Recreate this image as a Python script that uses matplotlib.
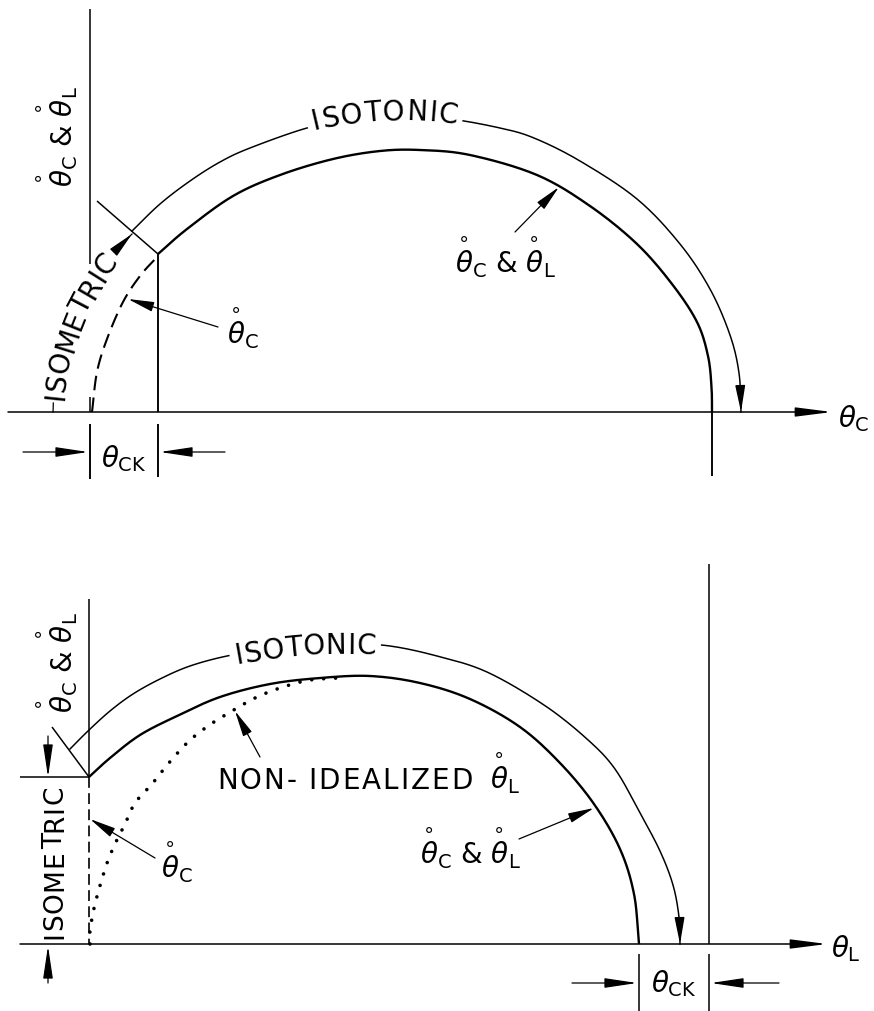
import numpy as np
import matplotlib
matplotlib.use("Agg")
import matplotlib.pyplot as plt

# ------------------------------------------------------------------
# Geometry of the two phase-plane sketches (page units, y downward)
# ------------------------------------------------------------------
W, H = 874, 1012
FS = 20            # lettering size (pt)
FONT = "DejaVu Sans"

# ---- upper sketch: plotted against theta_C ----
top_base_y = 413
top_axis_x = [8, 832]
top_vaxis_x = 90
top_vaxis_upper = [10, 265]
top_vaxis_lower = [398, 413]
top_ck_x = 158                      # theta_CK marker
top_ticks_below = [(90, 425, 480), (158, 425, 478), (712, 413, 477)]
top_ck_arrow_y = 453
top_ck_arrows = [(23, 88), (225, 160)]

top_inner_x = [158, 187, 233, 280, 333, 380, 420, 470, 537, 590, 637, 672, 697, 708, 711.5, 712]
top_inner_y = [255, 230, 197, 176, 160, 152, 151, 156, 176, 207, 245, 285, 323, 357, 388, 413]

top_outer_x = [132, 160, 190, 220, 250, 307, 350, 400, 450, 500, 534, 580, 637, 680, 710, 730, 739, 741]
top_outer_y = [232, 205, 182, 163, 149, 129, 121, 117, 120, 129, 139, 162, 200, 245, 290, 336, 374, 413]

top_dash_x = [92, 97, 107, 123, 140, 157]
top_dash_y = [413, 373, 340, 303, 277, 258]

top_iso_x = [53, 54, 58, 65, 75, 88, 103, 118, 132]
top_iso_y = [413, 395, 370, 343, 315, 290, 266, 249, 235]

top_diag_x = [97, 158]
top_diag_y = [202, 255]

# ---- lower sketch: plotted against theta_L ----
bot_base_y = 945
bot_axis_x = [20, 827]
bot_vaxis_x = 89
bot_vaxis_upper = [600, 778]
bot_knee_y = 778
bot_right_x = 709
bot_right_y = [565, 945]
bot_ticks_below = [(639, 955, 1012), (709, 955, 1012)]
bot_ck_arrow_y = 984
bot_ck_arrows = [(572, 637), (779, 711)]
bot_iso_arrows = [(48, 737, 778), (48, 984, 947)]

bot_inner_x = [89, 110, 140, 177, 220, 270, 320, 370, 420, 470, 520, 560, 594, 620, 634, 639]
bot_inner_y = [778, 759, 736, 717, 698, 685, 679, 677, 684, 700, 728, 764, 805, 850, 895, 945]

bot_outer_x = [70, 88, 110, 133, 160, 190, 227, 270, 310, 350, 390, 437, 487, 544, 587, 615, 640, 660, 673, 679, 680]
bot_outer_y = [750, 732, 712, 695, 680, 667, 657, 650, 646, 645, 647, 657, 673, 706, 740, 770, 814, 852, 886, 918, 945]

bot_dot_x = [90, 90, 95, 106, 115, 125, 135, 152, 168, 188, 208, 232, 257, 283, 310, 338]
bot_dot_y = [945, 932, 905, 867, 845, 825, 804, 785, 765, 743, 727, 712, 698, 688, 681, 679]

bot_diag_x = [52, 89]
bot_diag_y = [728, 778]

LW_CURVE = 1.7
LW_AXIS = 1.1
LW_THIN = 0.9

TH_C = r"$\overset{\circ}{\theta}_\mathrm{C}$"
TH_L = r"$\overset{\circ}{\theta}_\mathrm{L}$"
TH_CL = TH_C + " & " + TH_L
TH_CK = r"$\theta_\mathrm{CK}$"

plt.rcParams["font.family"] = [FONT]
plt.rcParams["mathtext.fontset"] = "dejavusans"

fig = plt.figure(figsize=(W / 100, H / 100), dpi=100)
ax = fig.add_axes([0, 0, 1, 1])
ax.set_xlim(0, W)
ax.set_ylim(H, 0)
ax.axis("off")
renderer = fig.canvas.get_renderer()


def smooth(xs, ys, n=16):
    """Catmull-Rom curve through the given points (straight run for two points)."""
    p = np.column_stack([xs, ys]).astype(float)
    if len(p) < 3:
        t = np.linspace(0, 1, 200)[:, None]
        c = p[0] + (p[-1] - p[0]) * t
        return c[:, 0], c[:, 1]
    ext = np.vstack([2 * p[0] - p[1], p, 2 * p[-1] - p[-2]])
    t = np.linspace(0, 1, n, endpoint=False)[:, None]
    out = []
    for i in range(1, len(ext) - 2):
        p0, p1, p2, p3 = ext[i - 1], ext[i], ext[i + 1], ext[i + 2]
        out.append(0.5 * (2 * p1 + (-p0 + p2) * t + (2 * p0 - 5 * p1 + 4 * p2 - p3) * t ** 2
                          + (-p0 + 3 * p1 - 3 * p2 + p3) * t ** 3))
    out.append(p[-1][None, :])
    c = np.vstack(out)
    return c[:, 0], c[:, 1]


def arclen(x, y):
    return np.concatenate([[0], np.cumsum(np.hypot(np.diff(x), np.diff(y)))])


def seg(x, y, s, a, b):
    m = (s > a) & (s < b)
    xs = np.concatenate([[np.interp(a, s, x)], x[m], [np.interp(b, s, x)]])
    ys = np.concatenate([[np.interp(a, s, y)], y[m], [np.interp(b, s, y)]])
    return xs, ys


def arrow(x0, y0, x1, y1, lw=LW_THIN, hl=1.6, hw=0.3):
    ax.annotate("", xy=(x1, y1), xytext=(x0, y0),
                arrowprops=dict(arrowstyle=f"-|>,head_length={hl},head_width={hw}",
                                lw=lw, color="k", shrinkA=0, shrinkB=0,
                                mutation_scale=10))


def curve(xs, ys, **kw):
    cx, cy = smooth(xs, ys)
    ax.plot(cx, cy, color="k", solid_capstyle="butt", **kw)
    return cx, cy


def ink_width(ch, size):
    if ch == " ":
        return 0.3 * size * 100 / 72
    t = ax.text(0, 0, ch, fontsize=size)
    w = t.get_window_extent(renderer).width
    t.remove()
    return w


def label_on_path(xs, ys, text, start, size=FS, gap=1.0, rise=0.0, pad=6.0,
                  line=True, lw=LW_THIN, arrow_end=False):
    """Letter a word along a guide curve; the guide is drawn as a leader broken by the word."""
    cx, cy = smooth(xs, ys)
    s = arclen(cx, cy)
    L = s[-1]
    s0 = s[np.argmin(np.hypot(cx - start[0], cy - start[1]))]
    widths = [ink_width(c, size) for c in text]
    total = sum(widths) + gap * (len(text) - 1)
    pos = s0
    for c, w in zip(text, widths):
        sc = pos + w / 2
        px, py = np.interp(sc, s, cx), np.interp(sc, s, cy)
        dx = np.interp(sc + 2, s, cx) - np.interp(sc - 2, s, cx)
        dy = np.interp(sc + 2, s, cy) - np.interp(sc - 2, s, cy)
        nrm = np.hypot(dx, dy)
        nx, ny = dy / nrm, -dx / nrm
        ang = np.degrees(np.arctan2(-dy, dx))
        if c != " ":
            ax.text(px + rise * nx, py + rise * ny, c, fontsize=size, rotation=ang,
                    rotation_mode="anchor", ha="center", va="baseline")
        pos += w + gap
    if line:
        end = s0 + total
        if s0 - pad > 0:
            a, b = seg(cx, cy, s, 0, s0 - pad)
            ax.plot(a, b, color="k", lw=lw)
        if end + pad < L:
            a, b = seg(cx, cy, s, end + pad, L)
            ax.plot(a, b, color="k", lw=lw)
            if arrow_end:
                arrow(np.interp(L - 18, s, cx), np.interp(L - 18, s, cy), cx[-1], cy[-1], lw=lw)


def line(x0, y0, x1, y1, lw=LW_AXIS, **kw):
    ax.plot([x0, x1], [y0, y1], color="k", lw=lw, solid_capstyle="butt", **kw)


# ======================= upper sketch =======================
arrow(top_axis_x[0], top_base_y, top_axis_x[1], top_base_y, lw=LW_AXIS, hl=2.2, hw=0.28)
line(top_vaxis_x, top_vaxis_upper[0], top_vaxis_x, top_vaxis_upper[1])
line(top_vaxis_x, top_vaxis_lower[0], top_vaxis_x, top_vaxis_lower[1])
line(top_ck_x, top_inner_y[0], top_ck_x, top_base_y, lw=LW_CURVE * 0.8)
for x, y0, y1 in top_ticks_below:
    line(x, y0, x, y1, lw=LW_CURVE * 0.8)
for x0, x1 in top_ck_arrows:
    arrow(x0, top_ck_arrow_y, x1, top_ck_arrow_y, hl=2.0, hw=0.3)
ax.text((top_vaxis_x + top_ck_x) / 2, 467, TH_CK, fontsize=FS, ha="center", va="baseline")

curve(top_inner_x, top_inner_y, lw=LW_CURVE)
curve(top_dash_x, top_dash_y, lw=1.5, linestyle=(0, (7, 3.5)))
line(top_diag_x[0], top_diag_y[0], top_diag_x[1], top_diag_y[1], lw=LW_THIN * 1.2)

# isotonic path over the top, isometric path up the left side
label_on_path(top_outer_x, top_outer_y, "ISOTONIC", start=(313, 128), gap=1.5, rise=-3,
              pad=6, lw=LW_THIN * 1.2, arrow_end=True)
label_on_path(top_iso_x, top_iso_y, "ISOMETRIC", start=(54, 400), gap=0.6, rise=-10,
              pad=4, lw=LW_THIN, arrow_end=True)

ax.text(57, 137, TH_CL, fontsize=FS, rotation=90, ha="center", va="center")
ax.text(243, 328, TH_C, fontsize=FS, ha="center", va="center")
arrow(218, 328, 128, 300)
ax.text(505, 257, TH_CL, fontsize=FS, ha="center", va="center")
arrow(515, 233, 559, 188)
ax.text(838, 427, r"$\theta_\mathrm{C}$", fontsize=FS, ha="left", va="baseline")

# ======================= lower sketch =======================
arrow(bot_axis_x[0], bot_base_y, bot_axis_x[1], bot_base_y, lw=LW_AXIS, hl=2.2, hw=0.28)
line(bot_vaxis_x, bot_vaxis_upper[0], bot_vaxis_x, bot_vaxis_upper[1])
line(bot_vaxis_x, bot_knee_y, bot_vaxis_x, bot_base_y, lw=1.2, linestyle=(0, (6.5, 3.2)))
line(20, bot_knee_y, bot_vaxis_x, bot_knee_y)
line(bot_right_x, bot_right_y[0], bot_right_x, bot_right_y[1])
for x, y0, y1 in bot_ticks_below:
    line(x, y0, x, y1)
for x0, x1 in bot_ck_arrows:
    arrow(x0, bot_ck_arrow_y, x1, bot_ck_arrow_y, hl=2.0, hw=0.3)
ax.text((639 + bot_right_x) / 2, 992, TH_CK, fontsize=FS, ha="center", va="baseline")
for x, y0, y1 in bot_iso_arrows:
    arrow(x, y0, x, y1, hl=2.0, hw=0.3)

curve(bot_inner_x, bot_inner_y, lw=LW_CURVE)
cx, cy = smooth(bot_dot_x, bot_dot_y)
ax.plot(cx, cy, color="k", lw=2.6, linestyle=(0, (0.01, 3.3)), dash_capstyle="round")
line(bot_diag_x[0], bot_diag_y[0], bot_diag_x[1], bot_diag_y[1], lw=LW_THIN * 1.2)

label_on_path(bot_outer_x, bot_outer_y, "ISOTONIC", start=(234, 656), gap=1.0, rise=-9,
              pad=6, lw=LW_THIN * 1.2, arrow_end=True)
label_on_path([62, 62], [bot_base_y, bot_knee_y], "ISOMETRIC", start=(62, 939), gap=1.0,
              size=19, line=False)
label_on_path([200, 480], [789, 789], "NON- IDEALIZED", start=(217, 789), gap=2.0, line=False)
ax.text(490, 789, TH_L, fontsize=FS, ha="left", va="baseline")
arrow(260, 758, 235, 712)

ax.text(57, 663, TH_CL, fontsize=FS, rotation=90, ha="center", va="center")
ax.text(177, 862, TH_C, fontsize=FS, ha="center", va="center")
arrow(155, 859, 90, 820)
ax.text(470, 848, TH_CL, fontsize=FS, ha="center", va="center")
arrow(519, 840, 594, 809)
ax.text(831, 957, r"$\theta_\mathrm{L}$", fontsize=FS, ha="left", va="baseline")

fig.savefig("out.png", dpi=100)
